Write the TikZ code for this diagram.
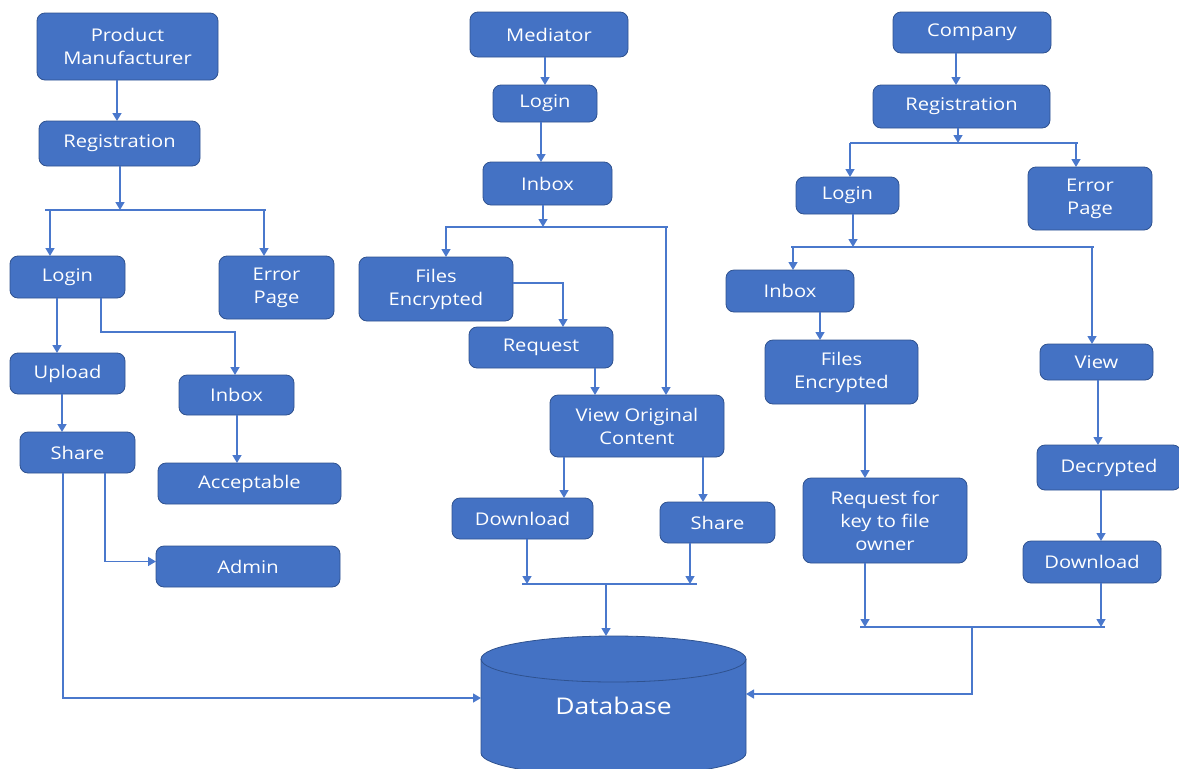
\documentclass[tikz,border=0pt]{standalone}
\usepackage{fontspec}
\setmainfont{Open Sans}[FakeStretch=1.15]
\usetikzlibrary{arrows.meta}
\definecolor{boxblue}{HTML}{4472C4}
\definecolor{boxedge}{HTML}{2F528F}
\definecolor{linkblue}{HTML}{4A78CC}
\tikzset{
  box/.style={draw=boxedge, fill=boxblue, rounded corners=8pt, text=white, align=center,
    inner sep=0pt, outer sep=0pt, line width=0.8pt, font=\fontsize{17.5}{23}\selectfont},
  line/.style={draw=linkblue, line width=1.4pt},
  arr/.style={line, -{Triangle[length=8pt,width=9pt]}},
  dbnode/.style={minimum width=265, minimum height=140, inner sep=0pt, outer sep=0pt,
    text=white, font=\fontsize{23}{28}\selectfont}
}
\begin{document}
\begin{tikzpicture}[x=1pt,y=-1pt]
\useasboundingbox (0,0) rectangle (1179,769);
\clip (0,0) rectangle (1179,769);
\node[box, minimum width=181, minimum height=67] (pm) at (127.5,46.5) {Product\\Manufacturer};
\node[box, minimum width=161, minimum height=45] (lreg) at (119.5,143.5) {Registration};
\node[box, minimum width=115, minimum height=42] (llogin) at (67.5,277) {Login};
\node[box, minimum width=115, minimum height=63] (lerr) at (276.5,287.5) {Error\\Page};
\node[box, minimum width=115, minimum height=41] (lupload) at (67.5,373.5) {Upload};
\node[box, minimum width=115, minimum height=40] (linbox) at (236.5,395) {Inbox};
\node[box, minimum width=115, minimum height=41] (lshare) at (77.5,452.5) {Share};
\node[box, minimum width=183, minimum height=41] (laccept) at (249.5,483.5) {Acceptable};
\node[box, minimum width=184, minimum height=41] (ladmin) at (248,566.5) {Admin};
\node[box, minimum width=158, minimum height=45] (med) at (549,34.5) {Mediator};
\node[box, minimum width=104, minimum height=37] (mlogin) at (545,103.5) {Login};
\node[box, minimum width=129, minimum height=43] (minbox) at (547.5,183.5) {Inbox};
\node[box, minimum width=154, minimum height=64] (menc) at (436,289) {Files\\Encrypted};
\node[box, minimum width=144, minimum height=41] (mreq) at (541,347.5) {Request};
\node[box, minimum width=174, minimum height=62] (mview) at (637,426) {View Original\\Content};
\node[box, minimum width=141, minimum height=41] (mdown) at (522.5,518.5) {Download};
\node[box, minimum width=115, minimum height=41] (mshare) at (717.5,522.5) {Share};
\node[box, minimum width=158, minimum height=41] (comp) at (972,32.5) {Company};
\node[box, minimum width=177, minimum height=43] (rreg) at (961.5,106.5) {Registration};
\node[box, minimum width=103, minimum height=37] (rlogin) at (847.5,195.5) {Login};
\node[box, minimum width=124, minimum height=63] (rerr) at (1090,198.5) {Error\\Page};
\node[box, minimum width=128, minimum height=42] (rinbox) at (790,291) {Inbox};
\node[box, minimum width=153, minimum height=64] (renc) at (841.5,372) {Files\\Encrypted};
\node[box, minimum width=164, minimum height=85] (rreqkey) at (885,520.5) {Request for\\key to file\\owner};
\node[box, minimum width=113, minimum height=36] (rview) at (1096.5,362) {View};
\node[box, minimum width=144, minimum height=45] (rdec) at (1109,467.5) {Decrypted};
\node[box, minimum width=138, minimum height=42] (rdown) at (1092,562) {Download};
\filldraw[fill=boxblue, draw=boxedge, line width=0.8pt] (481,659) -- (481,753)
  arc[start angle=180, end angle=360, x radius=132.5pt, y radius=23pt] -- (746,659)
  arc[start angle=0, end angle=180, x radius=132.5pt, y radius=23pt] -- cycle;
\draw[boxedge, line width=0.8pt] (481,659) arc[start angle=180, end angle=360, x radius=132.5pt, y radius=23pt];
\node[dbnode] (db) at (613.5,706) {Database};
\coordinate (lsplit) at (120,210);
\coordinate (lsplitW) at (50,210);
\coordinate (lsplitE) at (264,210);
\coordinate (lbend) at (235,332);
\draw[arr] (pm.south -| 117,0) -- (lreg.north -| 117,0);
\draw[arr] (lreg.south -| lsplit) -- (lsplit);
\draw[line] ([xshift=-5pt]lsplitW) -- ([xshift=2pt]lsplitE);
\draw[arr] (lsplitW) -- (lsplitW |- llogin.north);
\draw[arr] (lsplitE) -- (lsplitE |- lerr.north);
\draw[arr] (llogin.south -| 57,0) -- (lupload.north -| 57,0);
\draw[arr] (llogin.south -| 101,0) |- (lbend) -- (lbend |- linbox.north);
\draw[arr] (lupload.south -| 62,0) -- (lshare.north -| 62,0);
\draw[arr] (linbox.south -| 237,0) -- (laccept.north -| 237,0);
\draw[arr] (lshare.south -| 105,0) |- ([yshift=5pt]ladmin.west);
\draw[arr] (lshare.south -| 63,0) |- ([yshift=8pt]db.west);
\coordinate (msplit) at (543,227);
\coordinate (msplitW) at (446,227);
\coordinate (msplitE) at (666,227);
\coordinate (mjoin) at (606,584);
\coordinate (mjoinW) at (527,584);
\coordinate (mjoinE) at (690,584);
\draw[arr] (med.south -| 545,0) -- (mlogin.north -| 545,0);
\draw[arr] (mlogin.south -| 541,0) -- (minbox.north -| 541,0);
\draw[arr] (minbox.south -| msplit) -- (msplit);
\draw[line] ([xshift=-1pt]msplitW) -- ([xshift=2pt]msplitE);
\draw[arr] (msplitW) -- (msplitW |- menc.north);
\draw[arr] (msplitE) -- (msplitE |- mview.north);
\draw[arr] ([yshift=6pt]menc.east) -| ([xshift=22pt]mreq.north);
\draw[arr] (mreq.south -| 595,0) -- (mview.north -| 595,0);
\draw[arr] (mview.south -| 564,0) -- (mdown.north -| 564,0);
\draw[arr] (mview.south -| 703,0) -- (mshare.north -| 703,0);
\draw[arr] (mdown.south -| mjoinW) -- (mjoinW);
\draw[arr] (mshare.south -| mjoinE) -- (mjoinE);
\draw[line] ([xshift=-5pt]mjoinW) -- ([xshift=7pt]mjoinE);
\draw[arr] (mjoin) -- (mjoin |- db.north);
\coordinate (rsplit) at (958,143);
\coordinate (rsplitW) at (850,143);
\coordinate (rsplitE) at (1076,143);
\coordinate (rsplitb) at (853,247);
\coordinate (rsplitbW) at (793,247);
\coordinate (rsplitbE) at (1092,247);
\coordinate (rjoin) at (972,627);
\coordinate (rjoinW) at (865,627);
\coordinate (rjoinE) at (1101,627);
\draw[arr] (comp.south -| 956,0) -- (rreg.north -| 956,0);
\draw[arr] (rreg.south -| rsplit) -- (rsplit);
\draw[line] (rsplitW) -- ([xshift=2pt]rsplitE);
\draw[arr] (rsplitW) -- (rsplitW |- rlogin.north);
\draw[arr] (rsplitE) -- (rsplitE |- rerr.north);
\draw[arr] (rlogin.south -| rsplitb) -- (rsplitb);
\draw[line] ([xshift=-2pt]rsplitbW) -- ([xshift=2pt]rsplitbE);
\draw[arr] (rsplitbW) -- (rsplitbW |- rinbox.north);
\draw[arr] (rsplitbE) -- (rsplitbE |- rview.north);
\draw[arr] (rinbox.south -| 820,0) -- (renc.north -| 820,0);
\draw[arr] (renc.south -| 865,0) -- (rreqkey.north -| 865,0);
\draw[arr] (rview.south -| 1098,0) -- (rdec.north -| 1098,0);
\draw[arr] (rdec.south -| 1101,0) -- (rdown.north -| 1101,0);
\draw[arr] (rreqkey.south -| rjoinW) -- (rjoinW);
\draw[arr] (rdown.south -| rjoinE) -- (rjoinE);
\draw[line] ([xshift=-5pt]rjoinW) -- ([xshift=4pt]rjoinE);
\draw[arr] (rjoin) |- ([yshift=12pt]db.east);
\end{tikzpicture}
\end{document}
